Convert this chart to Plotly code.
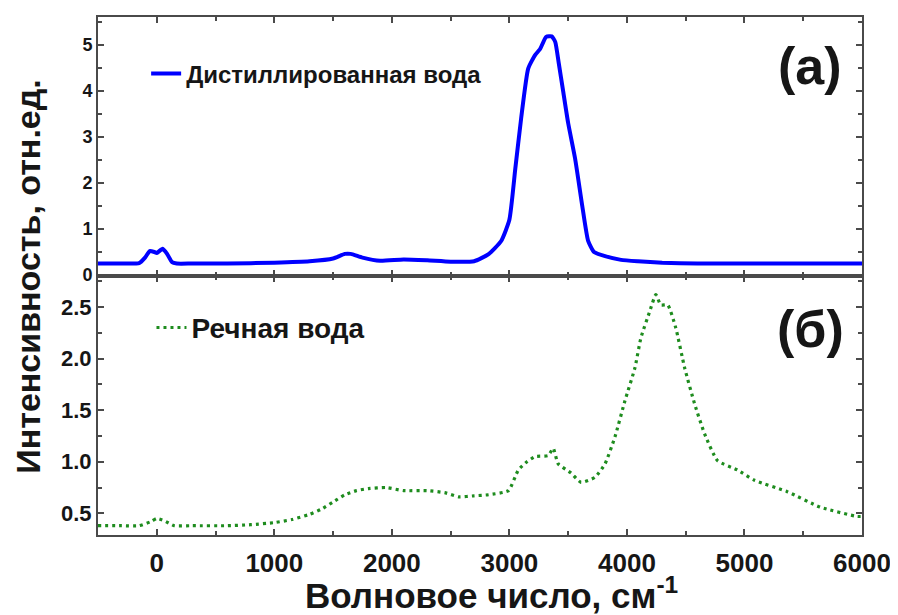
import plotly.graph_objects as go
from plotly.subplots import make_subplots

# Distilled water (panel a)
x_dist = [-500, -300, -150, -100, -60, -20, 0, 50, 90, 130, 170, 300, 600, 1000, 1300, 1500,
          1600, 1650, 1750, 1900, 2100, 2300, 2500, 2700, 2820, 2930, 3000, 3050, 3100, 3160,
          3220, 3260, 3313, 3360, 3390, 3420, 3458, 3500, 3559, 3620, 3670, 3720, 3814, 3950,
          4093, 4300, 4600, 5000, 5500, 6000]
y_dist = [0.25, 0.25, 0.26, 0.38, 0.52, 0.50, 0.48, 0.57, 0.45, 0.28, 0.25, 0.25, 0.25, 0.27, 0.30, 0.36,
          0.46, 0.46, 0.38, 0.31, 0.34, 0.32, 0.29, 0.30, 0.45, 0.74, 1.2, 2.3, 3.4, 4.48,
          4.78, 4.9, 5.17, 5.18, 5.06, 4.6, 3.98, 3.3, 2.53, 1.5, 0.74, 0.5, 0.41, 0.33,
          0.30, 0.27, 0.25, 0.25, 0.25, 0.25]

# River water (panel б)
x_river = [-500, -300, -150, -50, 0, 60, 150, 300, 600, 800, 1000, 1150, 1300, 1400, 1500,
           1600, 1700, 1800, 1950, 2100, 2300, 2450, 2568, 2700, 2822, 2992, 3076, 3150, 3220,
           3330, 3373, 3415, 3525, 3610, 3729, 3814, 3898, 3983, 4068, 4119, 4195, 4246, 4288,
           4347, 4415, 4491, 4576, 4661, 4771, 4940, 5085, 5364, 5644, 5958, 6000]
y_river = [0.38, 0.38, 0.38, 0.42, 0.45, 0.43, 0.38, 0.38, 0.38, 0.39, 0.41, 0.44, 0.49, 0.54, 0.61,
           0.68, 0.72, 0.74, 0.75, 0.72, 0.72, 0.70, 0.66, 0.67, 0.68, 0.72, 0.92, 1.00, 1.05,
           1.06, 1.13, 0.98, 0.89, 0.80, 0.85, 0.98, 1.24, 1.59, 1.91, 2.20, 2.46, 2.62, 2.52,
           2.52, 2.30, 1.91, 1.56, 1.27, 1.01, 0.92, 0.82, 0.71, 0.56, 0.47, 0.47]

x_ticks = [0, 1000, 2000, 3000, 4000, 5000, 6000]
y_ticks_a = [0, 1, 2, 3, 4, 5]
y_ticks_b = [0.5, 1.0, 1.5, 2.0, 2.5]
y_ticklabels_b = ["0.5", "1.0", "1.5", "2.0", "2.5"]

FONT = "Liberation Sans, Arial, sans-serif"
AX = "#4a4a4a"
TXT = "#161616"

fig = make_subplots(rows=2, cols=1, shared_xaxes=True, vertical_spacing=0)

fig.add_trace(go.Scatter(x=x_dist, y=y_dist, mode="lines", name="Дистиллированная вода",
                         line=dict(color="#0000ff", width=4, shape="spline", smoothing=0.5),
                         legend="legend"), row=1, col=1)
fig.add_trace(go.Scatter(x=x_river, y=y_river, mode="lines", name="Речная вода",
                         line=dict(color="#1e8c1e", width=3.2, dash="3px,4px", shape="spline", smoothing=0.5),
                         legend="legend2"), row=2, col=1)

common_x = dict(range=[-500, 6000], tickvals=x_ticks,
                ticks="inside", ticklen=6, tickwidth=1.5, tickcolor=AX,
                minor=dict(ticks="inside", ticklen=4, dtick=500, tick0=0, tickcolor=AX),
                showline=True, linecolor=AX, linewidth=2, mirror="ticks",
                showgrid=False, zeroline=False)
fig.update_xaxes(**common_x, showticklabels=False, row=1, col=1)
fig.update_xaxes(**common_x, showticklabels=True, ticklabelstandoff=4,
                 tickfont=dict(family=FONT, size=26, color=TXT, weight="bold"), row=2, col=1)

common_y = dict(ticks="inside", ticklen=6, tickwidth=1.5, tickcolor=AX,
                showline=True, linecolor=AX, linewidth=2, mirror="ticks",
                showgrid=False, zeroline=False)
fig.update_yaxes(**common_y, range=[-0.02, 5.6], tickvals=y_ticks_a,
                 tickfont=dict(family=FONT, size=18, color=TXT, weight="bold"),
                 minor=dict(ticks="inside", ticklen=4, dtick=0.5, tick0=0, tickcolor=AX),
                 row=1, col=1)
fig.update_yaxes(**common_y, range=[0.29, 2.8], tickvals=y_ticks_b, ticktext=y_ticklabels_b,
                 tickfont=dict(family=FONT, size=22, color=TXT, weight="bold"),
                 minor=dict(ticks="inside", ticklen=4, dtick=0.25, tick0=0, tickcolor=AX),
                 row=2, col=1)

fig.update_layout(
    width=890, height=607,
    margin=dict(l=90, r=33, t=7, b=80),
    paper_bgcolor="white", plot_bgcolor="white",
    showlegend=True,
    legend=dict(x=0.063, y=0.89, xanchor="left", yanchor="middle", bgcolor="rgba(0,0,0,0)",
                font=dict(family=FONT, size=24, color=TXT, weight="bold")),
    legend2=dict(x=0.07, y=0.40, xanchor="left", yanchor="middle", bgcolor="rgba(0,0,0,0)",
                 font=dict(family=FONT, size=28, color=TXT, weight="bold")),
    annotations=[
        dict(text="<b>(a)</b>", x=0.932, y=0.905, xref="paper", yref="paper", showarrow=False,
             xanchor="center", yanchor="middle",
             font=dict(family=FONT, size=52, color=TXT)),
        dict(text="<b>(б)</b>", x=0.932, y=0.397, xref="paper", yref="paper", showarrow=False,
             xanchor="center", yanchor="middle",
             font=dict(family=FONT, size=52, color=TXT)),
        dict(text="<b>Интенсивность, отн.ед.</b>", x=-0.092, y=0.5, xref="paper", yref="paper",
             xanchor="center", yanchor="middle",
             textangle=-90, showarrow=False, font=dict(family=FONT, size=34, color=TXT)),
        dict(text="<b>Волновое число, см<sup>-1</sup></b>", x=0.515, y=-0.112, xref="paper", yref="paper",
             xanchor="center", yanchor="middle", showarrow=False,
             font=dict(family=FONT, size=35, color=TXT)),
    ],
)

fig.write_html("out.html")
